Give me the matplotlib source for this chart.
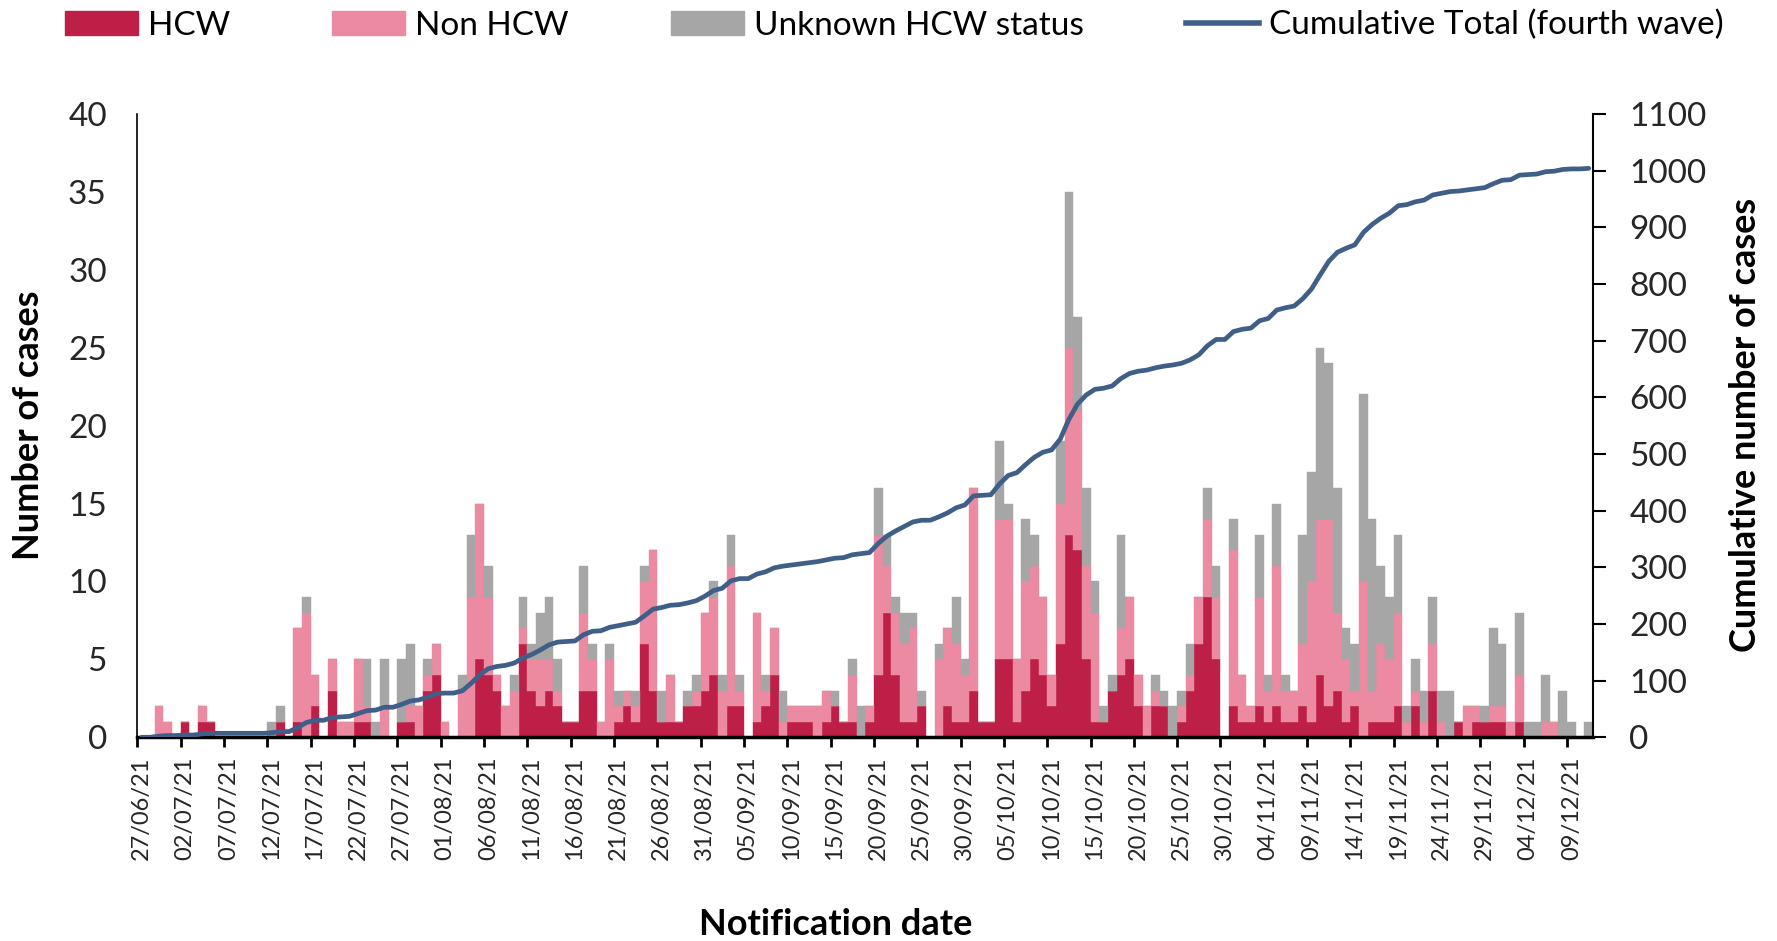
import numpy as np
import pandas as pd
import matplotlib
matplotlib.use('Agg')
import matplotlib.pyplot as plt
from matplotlib.patches import Patch
from matplotlib.lines import Line2D

plt.rcParams['font.family'] = ['Lato', 'DejaVu Sans']

# daily notifications, 27/06/21 .. 11/12/21
dates = pd.date_range('2021-06-27', '2021-12-11', freq='D')

hcw = [0, 0, 0, 0, 0, 1, 0, 1, 1, 0, 0, 0, 0, 0, 0, 0, 1, 0, 1, 0,
       2, 0, 3, 0, 0, 1, 1, 0, 0, 0, 1, 1, 0, 3, 4, 0, 0, 0, 0, 5,
       4, 3, 0, 0, 6, 3, 2, 3, 2, 1, 1, 3, 3, 0, 0, 1, 2, 1, 6, 3,
       1, 1, 1, 2, 2, 3, 4, 0, 2, 2, 0, 1, 2, 4, 0, 1, 1, 1, 0, 1,
       2, 1, 1, 0, 1, 4, 8, 4, 1, 1, 2, 0, 0, 2, 1, 1, 3, 1, 1, 5,
       5, 1, 3, 5, 4, 2, 6, 13, 12, 5, 1, 1, 3, 4, 5, 2, 0, 2, 2, 0,
       1, 3, 6, 9, 5, 0, 2, 1, 1, 2, 1, 2, 1, 1, 2, 1, 4, 2, 3, 1,
       2, 0, 1, 1, 1, 2, 0, 2, 0, 3, 0, 0, 1, 0, 1, 1, 1, 1, 0, 1,
       0, 0, 0, 0, 0, 0, 0, 0]
non_hcw = [0, 0, 2, 1, 0, 0, 0, 1, 0, 0, 0, 0, 0, 0, 0, 0, 0, 0, 6, 8,
           2, 0, 2, 1, 1, 4, 1, 0, 2, 0, 0, 1, 2, 1, 2, 1, 0, 3, 9, 10,
           5, 1, 2, 3, 1, 2, 3, 2, 1, 0, 0, 5, 2, 1, 5, 1, 1, 1, 4, 9,
           0, 3, 0, 0, 1, 5, 5, 3, 9, 1, 0, 7, 1, 3, 1, 1, 1, 1, 2, 2,
           0, 0, 3, 0, 1, 9, 3, 4, 5, 6, 0, 0, 5, 5, 5, 3, 13, 0, 0, 9,
           9, 4, 7, 6, 5, 2, 9, 12, 9, 6, 7, 0, 0, 3, 4, 2, 2, 1, 0, 0,
           1, 1, 3, 5, 4, 0, 10, 3, 1, 7, 2, 9, 2, 2, 4, 9, 10, 12, 5, 4,
           1, 10, 2, 5, 4, 6, 1, 1, 1, 3, 1, 0, 0, 2, 1, 0, 1, 1, 1, 3,
           0, 0, 1, 1, 0, 0, 0, 0]
unknown = [0, 0, 0, 0, 0, 0, 0, 0, 0, 0, 0, 0, 0, 0, 0, 1, 1, 0, 0, 1,
           0, 0, 0, 0, 0, 0, 3, 1, 3, 0, 4, 4, 0, 1, 0, 0, 0, 1, 4, 0,
           2, 0, 0, 1, 2, 1, 3, 4, 2, 0, 0, 3, 1, 0, 1, 1, 0, 1, 1, 0,
           2, 0, 0, 1, 1, 0, 1, 1, 2, 1, 0, 0, 1, 0, 2, 0, 0, 0, 0, 0,
           1, 0, 1, 2, 0, 3, 2, 1, 2, 1, 1, 0, 1, 0, 3, 1, 0, 0, 0, 5,
           1, 0, 4, 2, 0, 0, 4, 10, 6, 5, 2, 1, 1, 6, 0, 0, 0, 1, 1, 2,
           1, 2, 0, 2, 2, 0, 2, 0, 0, 4, 1, 4, 1, 0, 7, 7, 11, 10, 8, 2,
           3, 12, 11, 5, 4, 5, 1, 2, 2, 3, 2, 3, 0, 0, 0, 1, 5, 4, 0, 4,
           1, 1, 3, 0, 3, 1, 0, 1]

hcw = np.array(hcw)
non_hcw = np.array(non_hcw)
unknown = np.array(unknown)
cumulative = np.cumsum(hcw + non_hcw + unknown)

c_hcw = '#BE1F46'
c_non = '#EC8AA1'
c_unk = '#A6A6A6'
c_line = '#3F5E88'

fig = plt.figure(figsize=(17.77, 9.41), dpi=100)
ax = fig.add_axes([0.0773, 0.2165, 0.8192, 0.6624])
x = np.arange(len(dates))

ax.bar(x, hcw, width=1.0, color=c_hcw, edgecolor=c_hcw, linewidth=0.3)
ax.bar(x, non_hcw, width=1.0, bottom=hcw, color=c_non, edgecolor=c_non, linewidth=0.3)
ax.bar(x, unknown, width=1.0, bottom=hcw + non_hcw, color=c_unk, edgecolor=c_unk, linewidth=0.3)

ax.set_xlim(-0.5, len(dates) - 0.5)
ax.set_ylim(0, 40)
ax.set_yticks(range(0, 41, 5))
ax.tick_params(axis='y', length=0, pad=22, labelsize=24, colors='#262626')

lab_pos = x[::5]
ax.set_xticks(lab_pos)
ax.set_xticklabels([d.strftime('%d/%m/%y') for d in dates[::5]], rotation=90)
ax.set_xticks(lab_pos - 0.5, minor=True)
ax.tick_params(axis='x', which='major', length=0, pad=14, labelsize=17, colors='#262626')
ax.tick_params(axis='x', which='minor', length=7, width=2, direction='out', color='black')

ax.spines['top'].set_visible(False)
ax.spines['right'].set_visible(False)
ax.spines['left'].set_linewidth(1.2)
ax.spines['bottom'].set_linewidth(2.5)

ax2 = ax.twinx()
ax2.plot(x, cumulative, color=c_line, lw=3.4, solid_capstyle='round')
ax2.set_ylim(0, 1100)
ax2.set_yticks(range(0, 1101, 100))
ax2.tick_params(axis='y', length=9, width=1.5, pad=17, labelsize=24, colors='#262626')
ax2.tick_params(axis='y', color='black')
for s in ['top', 'left', 'bottom']:
    ax2.spines[s].set_visible(False)
ax2.spines['right'].set_linewidth(1.5)

fig.text(0.0158, 0.548, 'Number of cases', rotation=90, ha='center', va='center',
         fontsize=26, fontweight='bold')
fig.text(0.982, 0.548, 'Cumulative number of cases', rotation=90, ha='center', va='center',
         fontsize=26, fontweight='bold')
fig.text(0.4705, 0.018, 'Notification date', ha='center', va='center',
         fontsize=26, fontweight='bold')

handles = [Patch(color=c_hcw), Patch(color=c_non), Patch(color=c_unk),
           Line2D([0], [0], color=c_line, lw=4)]
labels = ['HCW', 'Non HCW', 'Unknown HCW status', 'Cumulative Total (fourth wave)']
fig.legend(handles, labels, loc='center left', bbox_to_anchor=(0.0366, 0.973),
           ncol=4, frameon=False, fontsize=24, handlelength=2.2, handleheight=0.7,
           handletextpad=0.3, columnspacing=3.05, borderpad=0, borderaxespad=0)

fig.savefig('out.png', dpi=100)
